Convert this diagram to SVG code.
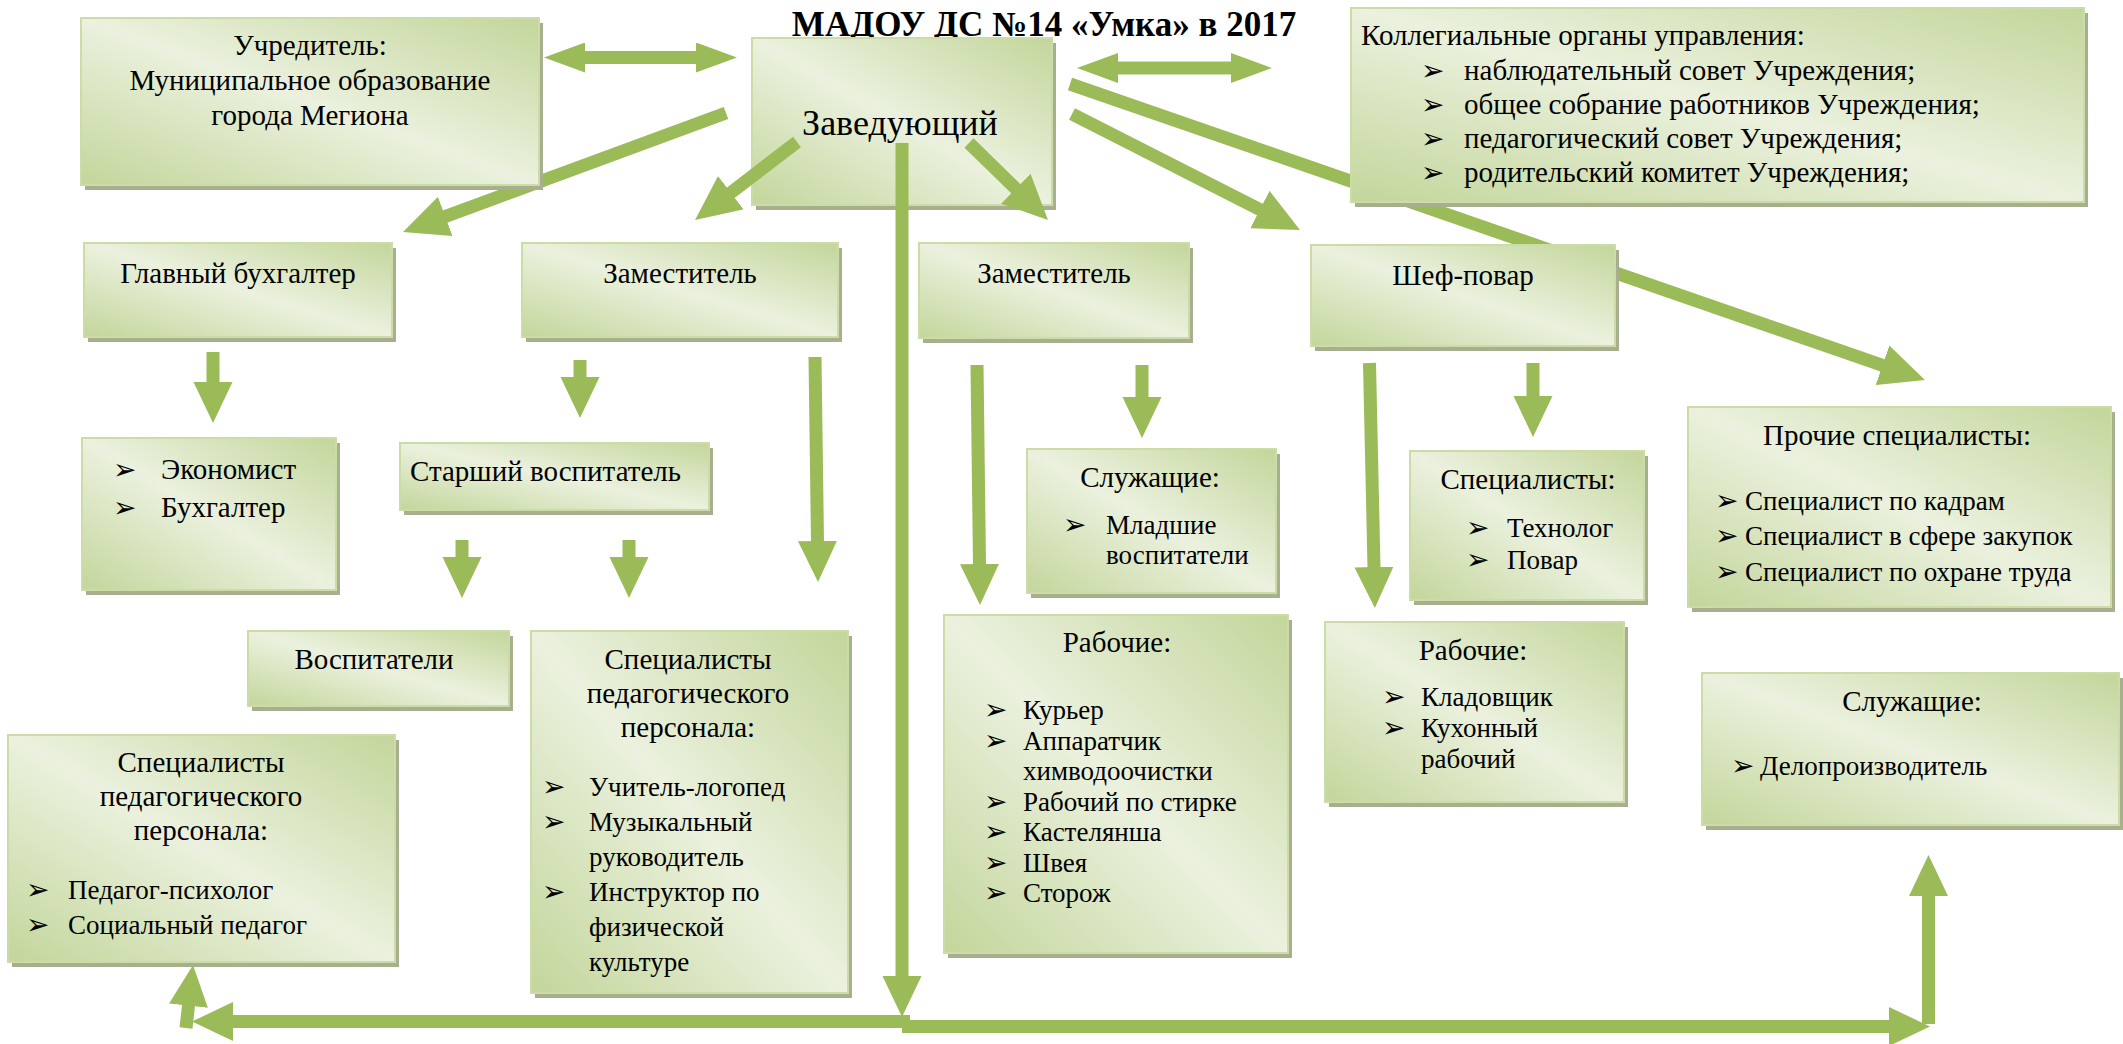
<svg xmlns="http://www.w3.org/2000/svg" width="2123" height="1044" viewBox="0 0 2123 1044">
<defs>
<linearGradient id="g" x1="1" y1="0" x2="0" y2="1">
<stop offset="0" stop-color="#c3d69b"/>
<stop offset="0.5" stop-color="#ebf1de"/>
<stop offset="1" stop-color="#c3d69b"/>
</linearGradient>
<marker id="hv" markerUnits="userSpaceOnUse" viewBox="-1 -20 41 40" refX="0" refY="0" markerWidth="41" markerHeight="40" orient="auto"><path d="M-1,-19.5 L40,0 L-1,19.5 z" fill="#9bbb59"/></marker>
<marker id="hd" markerUnits="userSpaceOnUse" viewBox="-1 -21 45 42" refX="0" refY="0" markerWidth="45" markerHeight="42" orient="auto"><path d="M-1,-21 L44,0 L-1,21 z" fill="#9bbb59"/></marker>
<marker id="hs" markerUnits="userSpaceOnUse" viewBox="-1 -15 41 30" refX="0" refY="0" markerWidth="41" markerHeight="30" orient="auto"><path d="M-1,-15 L40,0 L-1,15 z" fill="#9bbb59"/></marker>
</defs>
<style>
.box{fill:url(#g);stroke:#cbdca6;stroke-width:2}
.sh{fill:#a8af8e}
.t{font-family:"Liberation Serif","Times New Roman",serif;font-size:29px;fill:#000}
.s{font-size:27px}
.tt{font-size:35px;font-weight:bold}
.z{font-size:36px}
.c{text-anchor:middle}
.b{font-family:"DejaVu Sans",sans-serif;font-size:28px;font-weight:bold;fill:#000}
.ln{stroke:#9bbb59;stroke-width:13;fill:none}
.v{marker-end:url(#hv)}
.d{marker-end:url(#hd)}
.m{marker-end:url(#hs)}
</style>
<rect width="2123" height="1044" fill="#ffffff"/>
<text class="t tt c" x="1044" y="36">МАДОУ ДС №14 «Умка» в 2017</text>

<g id="n-zaveduyushchiy">
<rect class="sh" x="756" y="43" width="300" height="167"/>
<rect class="box" x="752" y="38" width="300" height="167"/>
<text class="t z c" x="900" y="135">Заведующий</text>
</g>

<g id="connectors">
<line class="ln m" x1="640" y1="57.5" x2="584" y2="57.5"/>
<line class="ln m" x1="640" y1="57.5" x2="697" y2="57.5"/>
<line class="ln m" x1="1175" y1="68" x2="1117" y2="68"/>
<line class="ln m" x1="1175" y1="68" x2="1232" y2="68"/>
<line class="ln d" x1="726" y1="113" x2="444.3" y2="216.8"/>
<line class="ln d" x1="797" y1="142" x2="730" y2="193.3"/>
<line class="ln d" x1="969" y1="143" x2="1016.5" y2="189.3"/>
<line class="ln d" x1="1072" y1="114" x2="1260.8" y2="210"/>
<line class="ln d" x1="1070" y1="84" x2="1883.4" y2="365.6"/>
<line class="ln v" x1="213" y1="352" x2="213" y2="383"/>
<line class="ln v" x1="580" y1="360" x2="580" y2="378"/>
<line class="ln v" x1="815" y1="357" x2="817.5" y2="542"/>
<line class="ln v" x1="462" y1="540" x2="462" y2="558"/>
<line class="ln v" x1="629" y1="540" x2="629" y2="558"/>
<line class="ln v" x1="977" y1="365" x2="979.5" y2="565"/>
<line class="ln v" x1="1142" y1="365" x2="1142" y2="398"/>
<line class="ln v" x1="1369.5" y1="363" x2="1374" y2="568"/>
<line class="ln v" x1="1533" y1="363" x2="1533" y2="397"/>
<line class="ln v" x1="910" y1="1021.5" x2="232" y2="1021.5"/>
<line class="ln v" x1="186" y1="1028" x2="188.6" y2="1004.7"/>
<line class="ln v" x1="902" y1="1026.5" x2="1890" y2="1026.5"/>
<line class="ln v" x1="1928.5" y1="1024" x2="1928.5" y2="895"/>
<line class="ln v" x1="902" y1="143" x2="902" y2="977"/>
</g>

<g id="n-uchreditel">
<rect class="sh" x="85" y="23" width="458" height="167"/>
<rect class="box" x="81" y="18" width="458" height="167"/>
<text class="t c" x="310" y="55">Учредитель:</text>
<text class="t c" x="310" y="90">Муниципальное образование</text>
<text class="t c" x="310" y="125">города Мегиона</text>
</g>

<g id="n-kollegialnye">
<rect class="sh" x="1355" y="13" width="733" height="194"/>
<rect class="box" x="1351" y="8" width="733" height="194"/>
<text class="t" x="1361" y="45">Коллегиальные органы управления:</text>
<text class="b" x="1421" y="80">➢</text><text class="t" x="1464" y="80">наблюдательный совет Учреждения;</text>
<text class="b" x="1421" y="114">➢</text><text class="t" x="1464" y="114">общее собрание работников Учреждения;</text>
<text class="b" x="1421" y="148">➢</text><text class="t" x="1464" y="148">педагогический совет Учреждения;</text>
<text class="b" x="1421" y="182">➢</text><text class="t" x="1464" y="182">родительский комитет Учреждения;</text>
</g>

<g id="n-glavbuh">
<rect class="sh" x="88" y="248" width="308" height="94"/>
<rect class="box" x="84" y="243" width="308" height="94"/>
<text class="t c" x="238" y="283">Главный бухгалтер</text>
</g>

<g id="n-zam1">
<rect class="sh" x="526" y="248" width="316" height="94"/>
<rect class="box" x="522" y="243" width="316" height="94"/>
<text class="t c" x="680" y="283">Заместитель</text>
</g>

<g id="n-zam2">
<rect class="sh" x="923" y="248" width="270" height="95"/>
<rect class="box" x="919" y="243" width="270" height="95"/>
<text class="t c" x="1054" y="283">Заместитель</text>
</g>

<g id="n-shef">
<rect class="sh" x="1315" y="250" width="304" height="101"/>
<rect class="box" x="1311" y="245" width="304" height="101"/>
<text class="t c" x="1463" y="285">Шеф-повар</text>
</g>

<g id="n-ekonomist">
<rect class="sh" x="86" y="443" width="254" height="152"/>
<rect class="box" x="82" y="438" width="254" height="152"/>
<text class="b" x="113" y="479">➢</text><text class="t" x="161" y="479">Экономист</text>
<text class="b" x="113" y="517">➢</text><text class="t" x="161" y="517">Бухгалтер</text>
</g>

<g id="n-starshiy">
<rect class="sh" x="404" y="448" width="309" height="67"/>
<rect class="box" x="400" y="443" width="309" height="67"/>
<text class="t" x="410" y="481">Старший воспитатель</text>
</g>

<g id="n-sluzhashchie1">
<rect class="sh" x="1031" y="454" width="249" height="144"/>
<rect class="box" x="1027" y="449" width="249" height="144"/>
<text class="t c" x="1150" y="487">Служащие:</text>
<text class="b" x="1063" y="534">➢</text><text class="t s" x="1106" y="534">Младшие</text>
<text class="t s" x="1106" y="564">воспитатели</text>
</g>

<g id="n-specialisty-pov">
<rect class="sh" x="1414" y="456" width="234" height="149"/>
<rect class="box" x="1410" y="451" width="234" height="149"/>
<text class="t c" x="1528" y="489">Специалисты:</text>
<text class="b" x="1466" y="537">➢</text><text class="t s" x="1507" y="537">Технолог</text>
<text class="b" x="1466" y="569">➢</text><text class="t s" x="1507" y="569">Повар</text>
</g>

<g id="n-prochie">
<rect class="sh" x="1692" y="412" width="423" height="200"/>
<rect class="box" x="1688" y="407" width="423" height="200"/>
<text class="t c" x="1897" y="445">Прочие специалисты:</text>
<text class="b" x="1715" y="510">➢</text><text class="t s" x="1745" y="510">Специалист по кадрам</text>
<text class="b" x="1715" y="545">➢</text><text class="t s" x="1745" y="545">Специалист в сфере закупок</text>
<text class="b" x="1715" y="581">➢</text><text class="t s" x="1745" y="581">Специалист по охране труда</text>
</g>

<g id="n-vospitateli">
<rect class="sh" x="252" y="636" width="261" height="75"/>
<rect class="box" x="248" y="631" width="261" height="75"/>
<text class="t c" x="374" y="669">Воспитатели</text>
</g>

<g id="n-specped-mid">
<rect class="sh" x="535" y="636" width="317" height="362"/>
<rect class="box" x="531" y="631" width="317" height="362"/>
<text class="t c" x="688" y="669">Специалисты</text>
<text class="t c" x="688" y="703">педагогического</text>
<text class="t c" x="688" y="737">персонала:</text>
<text class="b" x="542" y="796">➢</text><text class="t s" x="589" y="796">Учитель-логопед</text>
<text class="b" x="542" y="831">➢</text><text class="t s" x="589" y="831">Музыкальный</text>
<text class="t s" x="589" y="866">руководитель</text>
<text class="b" x="542" y="901">➢</text><text class="t s" x="589" y="901">Инструктор по</text>
<text class="t s" x="589" y="936">физической</text>
<text class="t s" x="589" y="971">культуре</text>
</g>

<g id="n-rabochie1">
<rect class="sh" x="948" y="620" width="344" height="338"/>
<rect class="box" x="944" y="615" width="344" height="338"/>
<text class="t c" x="1117" y="652">Рабочие:</text>
<text class="b" x="984" y="719">➢</text><text class="t s" x="1023" y="719">Курьер</text>
<text class="b" x="984" y="750">➢</text><text class="t s" x="1023" y="750">Аппаратчик</text>
<text class="t s" x="1023" y="780">химводоочистки</text>
<text class="b" x="984" y="811">➢</text><text class="t s" x="1023" y="811">Рабочий по стирке</text>
<text class="b" x="984" y="841">➢</text><text class="t s" x="1023" y="841">Кастелянша</text>
<text class="b" x="984" y="872">➢</text><text class="t s" x="1023" y="872">Швея</text>
<text class="b" x="984" y="902">➢</text><text class="t s" x="1023" y="902">Сторож</text>
</g>

<g id="n-rabochie2">
<rect class="sh" x="1329" y="627" width="299" height="180"/>
<rect class="box" x="1325" y="622" width="299" height="180"/>
<text class="t c" x="1473" y="660">Рабочие:</text>
<text class="b" x="1382" y="706">➢</text><text class="t s" x="1421" y="706">Кладовщик</text>
<text class="b" x="1382" y="737">➢</text><text class="t s" x="1421" y="737">Кухонный</text>
<text class="t s" x="1421" y="768">рабочий</text>
</g>

<g id="n-sluzhashchie2">
<rect class="sh" x="1706" y="678" width="417" height="152"/>
<rect class="box" x="1702" y="673" width="417" height="152"/>
<text class="t c" x="1912" y="711">Служащие:</text>
<text class="b" x="1731" y="775">➢</text><text class="t s" x="1760" y="775">Делопроизводитель</text>
</g>

<g id="n-specped-left">
<rect class="sh" x="12" y="740" width="387" height="227"/>
<rect class="box" x="8" y="735" width="387" height="227"/>
<text class="t c" x="201" y="772">Специалисты</text>
<text class="t c" x="201" y="806">педагогического</text>
<text class="t c" x="201" y="840">персонала:</text>
<text class="b" x="26" y="899">➢</text><text class="t s" x="68" y="899">Педагог-психолог</text>
<text class="b" x="26" y="934">➢</text><text class="t s" x="68" y="934">Социальный педагог</text>
</g>
</svg>
